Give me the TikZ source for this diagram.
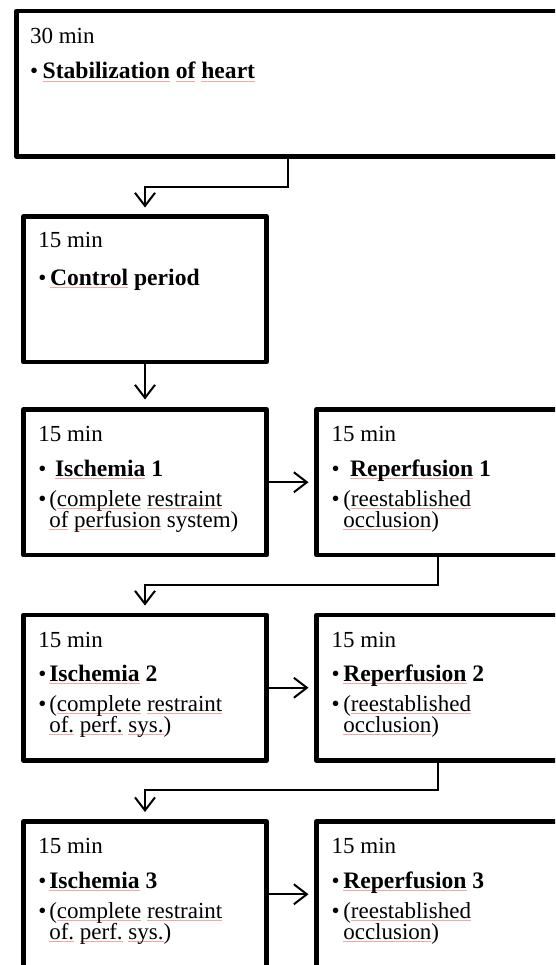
\documentclass[tikz,border=0pt]{standalone}
\usepackage{fontspec}
\setmainfont{Liberation Serif}
\usetikzlibrary{arrows.meta}
\definecolor{spell}{rgb}{0.95,0.65,0.65}
\newcommand\spl[1]{\setbox0=\hbox{#1}\rlap{\textcolor{spell}{\rule[-3pt]{\wd0}{0.6pt}}}\box0\relax}
\begin{document}
\begin{tikzpicture}[x=1pt,y=-1pt,
  stage/.style={draw, line width=4.5pt, line join=round, inner sep=0pt, outer sep=0pt,
    anchor=north west, minimum width=243pt, minimum height=145.5pt},
  conn/.style={line width=2pt, -{Straight Barb[length=13pt,width=20pt]}},
  txt/.style={anchor=base west, inner sep=0pt, outer sep=0pt, font=\fontsize{23}{21}\selectfont},
  btxt/.style={txt, font=\fontsize{23.6}{21}\selectfont\bfseries}]
\useasboundingbox (0,0) rectangle (555,965);
\clip (0,0) rectangle (555,965);

% boxes
\node[stage, minimum width=543.5pt] (B0) at (16.5,11) {};
\node[stage] (B1) at (23.5,216.5) {};
\node[stage] (B2) at (23.5,409.5) {};
\node[stage] (R1) at (316.5,409.5) {};
\node[stage] (B4) at (23.5,615) {};
\node[stage] (R2) at (316.5,615) {};
\node[stage] (B6) at (23.5,821.5) {};
\node[stage] (R3) at (316.5,821.5) {};

% connectors
\draw[conn, shorten >=9pt] (B0.south) -- ++(0,30.25) -| (B1.north);
\draw[conn, shorten >=10pt] (B1.south) -- (B2.north);
\draw[conn, shorten >=8pt] (B2.east) -- (R1.west);
\draw[conn, shorten >=9.5pt] (R1.south) -- ++(0,29.5) -| (B4.north);
\draw[conn, shorten >=8pt] (B4.east) -- (R2.west);
\draw[conn, shorten >=9.5pt] (R2.south) -- ++(0,29.5) -| (B6.north);
\draw[conn, shorten >=8pt] (B6.east) -- (R3.west);

% top box
\node[txt] (t0a) at (30,44) {30 min};
\node[txt] (t0b) at (30,79) {•};
\node[btxt] (t0c) at (42.7,79) {\spl{Stabilization} \spl{of} \spl{heart}};

% control
\node[txt] (t1a) at (38.3,248) {15 min};
\node[txt] (t1b) at (38.3,285) {•};
\node[btxt] (t1c) at (50,285) {\spl{Control} period};

% ischemia 1
\node[txt] (t2a) at (38.3,441) {15 min};
\node[txt] (t2b) at (38.3,476) {•};
\node[btxt] (t2c) at (55,476) {\spl{Ischemia} 1};
\node[txt] (t2d) at (38.3,506) {•};
\node[txt] (t2e) at (49.3,506) {(\spl{complete} \spl{restraint}};
\node[txt] (t2f) at (49.3,527) {\spl{of} \spl{perfusion} system)};

% reperfusion 1
\node[txt] (r1a) at (331.7,441) {15 min};
\node[txt] (r1b) at (331.7,476) {•};
\node[btxt] (r1c) at (350,476) {\spl{Reperfusion} 1};
\node[txt] (r1d) at (331.7,506) {•};
\node[txt] (r1e) at (343.3,506) {(\spl{reestablished}};
\node[txt] (r1f) at (343.3,527) {\spl{occlusion})};

% ischemia 2
\node[txt] (t4a) at (38.3,647) {15 min};
\node[txt] (t4b) at (38.3,681) {•};
\node[btxt] (t4c) at (49.3,681) {\spl{Ischemia} 2};
\node[txt] (t4d) at (38.3,711) {•};
\node[txt] (t4e) at (49.3,711) {(\spl{complete} \spl{restraint}};
\node[txt] (t4f) at (49.3,732) {\spl{of.} \spl{perf.} \spl{sys.})};

% reperfusion 2
\node[txt] (r2a) at (331.7,647) {15 min};
\node[txt] (r2b) at (331.7,681) {•};
\node[btxt] (r2c) at (343.3,681) {\spl{Reperfusion} 2};
\node[txt] (r2d) at (331.7,711) {•};
\node[txt] (r2e) at (343.3,711) {(\spl{reestablished}};
\node[txt] (r2f) at (343.3,732) {\spl{occlusion})};

% ischemia 3
\node[txt] (t6a) at (38.3,853) {15 min};
\node[txt] (t6b) at (38.3,888) {•};
\node[btxt] (t6c) at (49.3,888) {\spl{Ischemia} 3};
\node[txt] (t6d) at (38.3,918) {•};
\node[txt] (t6e) at (49.3,918) {(\spl{complete} \spl{restraint}};
\node[txt] (t6f) at (49.3,939) {\spl{of.} \spl{perf.} \spl{sys.})};

% reperfusion 3
\node[txt] (r3a) at (331.7,853) {15 min};
\node[txt] (r3b) at (331.7,888) {•};
\node[btxt] (r3c) at (343.3,888) {\spl{Reperfusion} 3};
\node[txt] (r3d) at (331.7,918) {•};
\node[txt] (r3e) at (343.3,918) {(\spl{reestablished}};
\node[txt] (r3f) at (343.3,939) {\spl{occlusion})};
\end{tikzpicture}
\end{document}
